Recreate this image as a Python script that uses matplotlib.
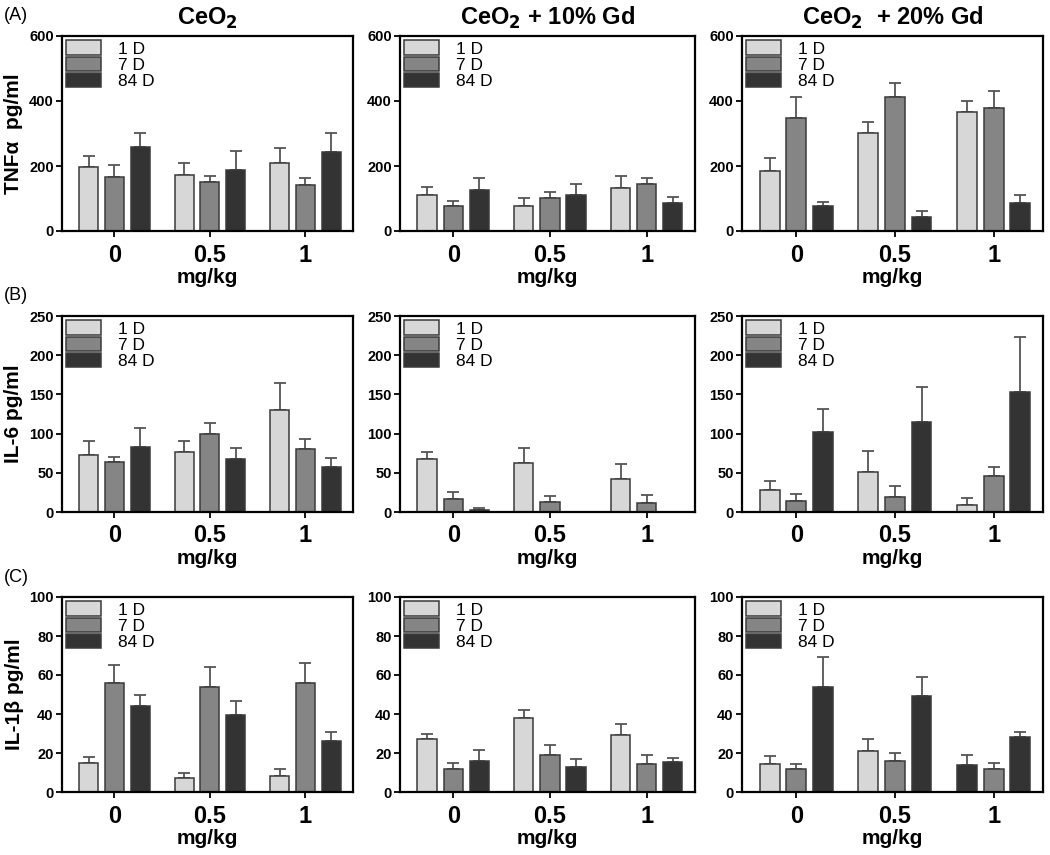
import numpy as np
import matplotlib
matplotlib.use('Agg')
import matplotlib.pyplot as plt
from matplotlib.patches import Patch

plt.rcParams['font.family'] = ['Liberation Sans', 'DejaVu Sans']

doses = ['0', '0.5', '1']
days = ['1 D', '7 D', '84 D']
titles = ['CeO$_\\mathbf{2}$', 'CeO$_\\mathbf{2}$ + 10% Gd', 'CeO$_\\mathbf{2}$  + 20% Gd']
ylabels = ['TNF\u03b1  pg/ml', 'IL-6 pg/ml', 'IL-1\u03b2 pg/ml']
row_tags = ['(A)', '(B)', '(C)']
ymax = [600, 250, 100]
ystep = [200, 50, 20]

# rows: 1 D, 7 D, 84 D ; columns: dose 0, 0.5, 1
tnf_ceo2 = [[198, 173, 208], [166, 151, 141], [257, 187, 243]]
tnf_ceo2_err = [[32, 35, 46], [36, 19, 23], [44, 59, 57]]
tnf_gd10 = [[110, 78, 131], [78, 103, 146], [125, 112, 85]]
tnf_gd10_err = [[25, 22, 37], [15, 18, 16], [38, 33, 20]]
tnf_gd20 = [[184, 303, 366], [347, 412, 379], [76, 43, 85]]
tnf_gd20_err = [[41, 33, 35], [66, 42, 53], [14, 19, 27]]

il6_ceo2 = [[73, 77, 130], [64, 100, 80], [83, 68, 57]]
il6_ceo2_err = [[18, 13, 35], [6, 13, 13], [24, 13, 12]]
il6_gd10 = [[67, 63, 42], [17, 13, 11], [2.5, np.nan, np.nan]]
il6_gd10_err = [[9, 19, 19], [9, 8, 11], [2.5, 0, 0]]
il6_gd20 = [[28, 51, 9], [14, 19, 46], [102, 115, 153]]
il6_gd20_err = [[11, 27, 9], [9, 14, 11], [29, 44, 70]]

il1_ceo2 = [[15, 7, 8], [56, 54, 56], [44, 39.5, 26]]
il1_ceo2_err = [[3, 3, 4], [9, 10, 10], [6, 7, 5]]
il1_gd10 = [[27, 38, 29], [12, 19, 14.5], [16, 13, 15.3]]
il1_gd10_err = [[2.5, 4, 6], [3, 5, 4.5], [5.5, 4, 2]]
il1_gd20 = [[14.5, 21, 14], [12, 15.7, 12], [54, 49, 28]]
il1_gd20_err = [[4, 6, 5], [2.5, 4.5, 3], [15, 10, 3]]

means = [[tnf_ceo2, tnf_gd10, tnf_gd20],
         [il6_ceo2, il6_gd10, il6_gd20],
         [il1_ceo2, il1_gd10, il1_gd20]]
errs = [[tnf_ceo2_err, tnf_gd10_err, tnf_gd20_err],
        [il6_ceo2_err, il6_gd10_err, il6_gd20_err],
        [il1_ceo2_err, il1_gd10_err, il1_gd20_err]]

colors = ['#d7d7d7', '#858585', '#333333']
edge = '#3a3a3a'

W, H = 1050, 855
col_x = [(62, 353), (400, 695), (742, 1043)]
row_y = [(36, 231), (316, 512), (597, 792)]

fig = plt.figure(figsize=(W / 100, H / 100), dpi=100)

x = np.arange(len(doses))
bw = 0.2
off = 0.27

for r in range(3):
    for c in range(3):
        x0, x1 = col_x[c]
        y0, y1 = row_y[r]
        ax = fig.add_axes([x0 / W, 1 - y1 / H, (x1 - x0) / W, (y1 - y0) / H])
        m = means[r][c]
        e = errs[r][c]
        for k in range(3):
            xs = x + (k - 1) * off
            vals = np.array(m[k], dtype=float)
            ee = np.array(e[k], dtype=float)
            ax.errorbar(xs, vals, yerr=[np.zeros(3), ee], fmt='none',
                        ecolor='#555555', elinewidth=1.3, capsize=4, capthick=1.3, zorder=1)
            bars = ax.bar(xs, vals, bw, color=colors[k], edgecolor=edge, linewidth=1.1, zorder=2)
            if r == 2 and c == 2 and k == 0:
                # last 1 D bar is drawn dark in the original figure
                bars[2].set_facecolor(colors[2])
        ax.set_xlim(-0.55, 2.5)
        ax.set_ylim(0, ymax[r])
        ax.set_yticks(np.arange(0, ymax[r] + 1, ystep[r]))
        ax.set_xticks(x)
        ax.set_xticklabels(doses, fontsize=17, fontweight='bold')
        for lab in ax.get_yticklabels():
            lab.set_fontweight('bold')
            lab.set_fontsize(10.5)
        ax.tick_params(axis='both', direction='out', length=4, width=1.3, pad=2)
        ax.tick_params(axis='x', pad=5)
        for s in ax.spines.values():
            s.set_linewidth(1.6)
        ax.set_xlabel('mg/kg', fontsize=15, fontweight='bold', labelpad=1)
        if c == 0:
            ax.set_ylabel(ylabels[r], fontsize=15, fontweight='bold', labelpad=4)
        if r == 0:
            ax.set_title(titles[c], fontsize=17, fontweight='bold', pad=8)
        handles = [Patch(facecolor=colors[k], edgecolor=edge, linewidth=1.1) for k in range(3)]
        ax.legend(handles, days, loc='upper left', frameon=False, fontsize=12.5,
                  handlelength=2.0, handleheight=0.9, labelspacing=0.0,
                  handletextpad=1.0, borderaxespad=0.15, borderpad=0.1)

for r in range(3):
    fig.text(4 / W, 1 - (row_y[r][0] - 20) / H, row_tags[r], fontsize=13, va='center', ha='left')

fig.savefig('out.png', dpi=100)
